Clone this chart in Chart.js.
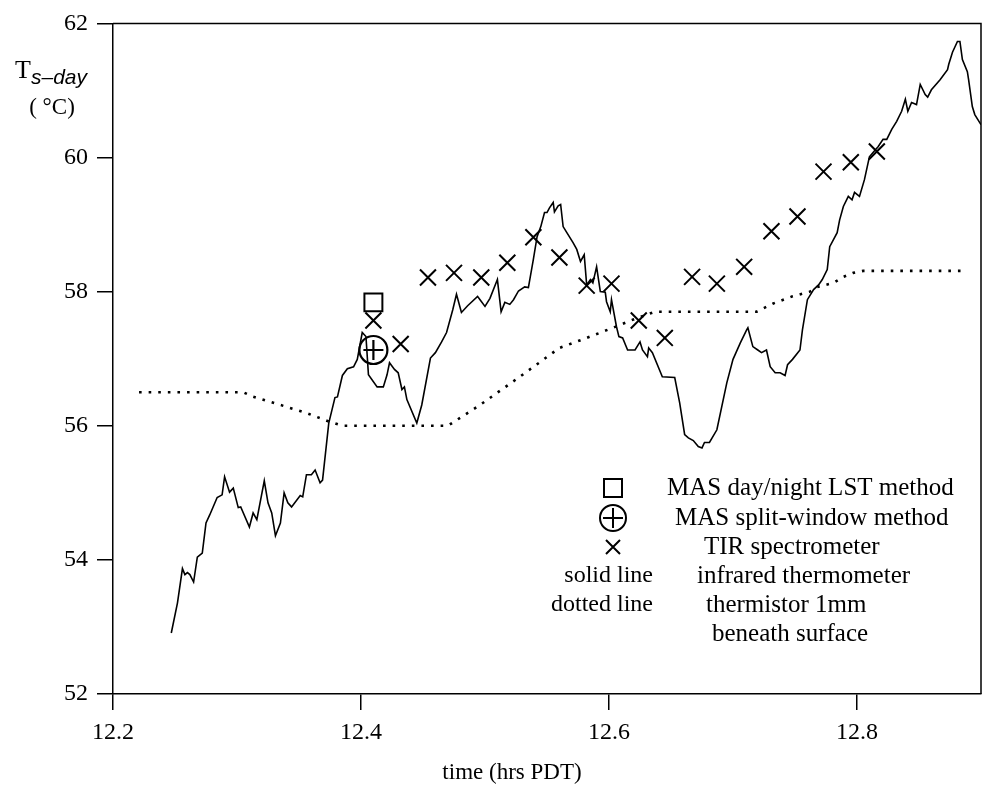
<!DOCTYPE html>
<html>
<head>
<meta charset="utf-8">
<title>Surface temperature, daytime overpass</title>
<script src="https://cdn.jsdelivr.net/npm/chart.js@4.4.0/dist/chart.umd.min.js"></script>
<style>
  html, body { margin: 0; padding: 0; background: #fff; }
  #wrap { width: 1007px; height: 790px; }
</style>
</head>
<body>
<div id="wrap"><canvas id="tsChart" width="1007" height="790"></canvas></div>
<script>
// infrared thermometer (solid line)
const irTime = [
  12.247, 12.252, 12.256, 12.258, 12.260, 12.262, 12.265, 12.268, 12.272, 12.275,
  12.278, 12.284, 12.288, 12.290, 12.294, 12.297, 12.301, 12.303, 12.310, 12.313,
  12.316, 12.322, 12.325, 12.328, 12.331, 12.335, 12.338, 12.341, 12.344, 12.351,
  12.353, 12.356, 12.360, 12.363, 12.367, 12.369, 12.374, 12.379, 12.381, 12.385,
  12.389, 12.394, 12.397, 12.401, 12.404, 12.406, 12.413, 12.418, 12.421, 12.423,
  12.427, 12.430, 12.433, 12.435, 12.437, 12.445, 12.449, 12.456, 12.460, 12.465,
  12.469, 12.474, 12.477, 12.481, 12.486, 12.494, 12.496, 12.500, 12.504, 12.510,
  12.513, 12.516, 12.520, 12.523, 12.527, 12.532, 12.535, 12.539, 12.542, 12.545,
  12.548, 12.550, 12.552, 12.555, 12.556, 12.559, 12.561, 12.563, 12.566, 12.571,
  12.574, 12.577, 12.580, 12.582, 12.585, 12.587, 12.590, 12.593, 12.597, 12.598,
  12.601, 12.602, 12.606, 12.608, 12.611, 12.615, 12.621, 12.625, 12.627, 12.631,
  12.632, 12.635, 12.643, 12.653, 12.657, 12.661, 12.664, 12.668, 12.672, 12.675,
  12.677, 12.681, 12.687, 12.695, 12.700, 12.706, 12.711, 12.712, 12.716, 12.720,
  12.723, 12.727, 12.730, 12.734, 12.738, 12.742, 12.744, 12.748, 12.754, 12.756,
  12.760, 12.765, 12.769, 12.772, 12.776, 12.778, 12.784, 12.786, 12.789, 12.793,
  12.796, 12.798, 12.802, 12.806, 12.810, 12.815, 12.817, 12.821, 12.824, 12.828,
  12.832, 12.836, 12.839, 12.841, 12.844, 12.848, 12.851, 12.855, 12.857, 12.860,
  12.867, 12.873, 12.874, 12.877, 12.881, 12.883, 12.885, 12.889, 12.890, 12.893,
  12.895, 12.900
];
const irTemp = [
  52.91, 53.36, 53.87, 53.78, 53.81, 53.78, 53.67, 54.04, 54.10, 54.55,
  54.67, 54.93, 54.97, 55.24, 55.01, 55.07, 54.78, 54.79, 54.49, 54.70,
  54.60, 55.18, 54.85, 54.70, 54.36, 54.55, 55.00, 54.85, 54.79, 54.96,
  54.94, 55.27, 55.27, 55.34, 55.15, 55.19, 56.04, 56.42, 56.43, 56.75,
  56.85, 56.88, 56.99, 57.39, 57.33, 56.76, 56.58, 56.58, 56.76, 56.94,
  56.84, 56.79, 56.54, 56.58, 56.39, 56.04, 56.31, 57.01, 57.09, 57.25,
  57.39, 57.73, 57.96, 57.69, 57.79, 57.93, 57.88, 57.78, 57.90, 58.18,
  57.70, 57.84, 57.81, 57.88, 58.01, 58.07, 58.06, 58.48, 58.82, 58.97,
  59.18, 59.18, 59.25, 59.33, 59.19, 59.28, 59.30, 58.97, 58.88, 58.73,
  58.63, 58.45, 58.55, 58.10, 58.18, 58.13, 58.37, 58.00, 57.99, 57.85,
  57.70, 57.88, 57.48, 57.33, 57.31, 57.13, 57.13, 57.25, 57.13, 57.03,
  57.16, 57.09, 56.73, 56.72, 56.34, 55.87, 55.82, 55.78, 55.69, 55.67,
  55.75, 55.75, 55.94, 56.64, 56.99, 57.24, 57.43, 57.46, 57.18, 57.13,
  57.09, 57.13, 56.88, 56.79, 56.79, 56.75, 56.91, 56.99, 57.13, 57.43,
  57.88, 58.03, 58.10, 58.18, 58.33, 58.67, 58.88, 59.07, 59.27, 59.42,
  59.37, 59.48, 59.42, 59.67, 60.01, 60.12, 60.16, 60.27, 60.27, 60.42,
  60.54, 60.69, 60.87, 60.69, 60.82, 60.79, 61.09, 60.94, 60.90, 61.01,
  61.16, 61.31, 61.39, 61.57, 61.73, 61.73, 61.46, 61.28, 61.16, 60.76,
  60.64, 60.49
];

// thermistor 1mm beneath surface (dotted line)
const thermTime = [
  12.221, 12.305, 12.312, 12.335, 12.356, 12.373, 12.385, 12.470, 12.496, 12.528,
  12.560, 12.582, 12.603, 12.619, 12.637, 12.719, 12.732, 12.748, 12.762, 12.768,
  12.781, 12.789, 12.797, 12.805, 12.889
];
const thermTemp = [
  56.50, 56.50, 56.44, 56.31, 56.19, 56.07, 56.00, 56.00, 56.31, 56.73,
  57.16, 57.31, 57.46, 57.58, 57.70, 57.70, 57.82, 57.93, 58.00, 58.07,
  58.13, 58.22, 58.28, 58.31, 58.31
];

// TIR spectrometer (crosses)
const tirTime = [
  12.410, 12.432, 12.454, 12.475, 12.497, 12.518, 12.539, 12.560, 12.582, 12.602,
  12.624, 12.645, 12.667, 12.687, 12.709, 12.731, 12.752, 12.773, 12.795, 12.816
];
const tirTemp = [
  57.57, 57.22, 58.21, 58.28, 58.21, 58.43, 58.81, 58.51, 58.09, 58.12,
  57.57, 57.31, 58.22, 58.12, 58.37, 58.90, 59.12, 59.79, 59.93, 60.09
];

// MAS retrievals
const masDayNightTime = [12.410];
const masDayNightTemp = [57.84];
const masSplitTime = [12.410];
const masSplitTemp = [57.13];

const xTicks = [12.2, 12.4, 12.6, 12.8];
const yTicks = [52, 54, 56, 58, 60, 62];

const legendRows = [
  { key: 'square', label: 'MAS day/night LST method' },
  { key: 'circlePlus', label: 'MAS split-window method' },
  { key: 'cross', label: 'TIR spectrometer' },
  { key: 'solid line', label: 'infrared thermometer' },
  { key: 'dotted line', label: 'thermistor 1mm' },
  { key: '', label: 'beneath surface' }
];

const SERIF = '"Liberation Serif", "Times New Roman", serif';
const SANS = '"Liberation Sans", Arial, sans-serif';

function toPoints(xs, ys) {
  return xs.map((x, i) => ({ x: x, y: ys[i] }));
}

// box around the plot, axis titles and the key
const annotations = {
  id: 'annotations',
  afterDraw(chart) {
    const { ctx, chartArea: a } = chart;
    ctx.save();
    ctx.strokeStyle = '#000';
    ctx.lineWidth = 1.5;
    ctx.beginPath();
    ctx.moveTo(a.left, a.top);
    ctx.lineTo(a.right, a.top);
    ctx.lineTo(a.right, a.bottom);
    ctx.stroke();

    ctx.fillStyle = '#000';
    ctx.textBaseline = 'alphabetic';

    // y title: T with subscript s-day, unit below
    ctx.textAlign = 'left';
    ctx.font = '26px ' + SERIF;
    ctx.fillText('T', 15, 78);
    ctx.font = 'italic 21px ' + SANS;
    ctx.fillText('s\u2013day', 31, 84);
    ctx.textAlign = 'center';
    ctx.font = '23px ' + SERIF;
    ctx.fillText('( \u00B0C)', 52, 114);

    // x title
    ctx.fillText('time (hrs PDT)', 512, 779);

    // key
    const mx = 613;
    const rowY = [488, 518, 547, 576, 605, 634];
    const textX = [667, 675, 704, 697, 706, 712];
    ctx.lineWidth = 2;
    ctx.textBaseline = 'middle';
    legendRows.forEach((row, i) => {
      const y = rowY[i];
      ctx.beginPath();
      if (row.key === 'square') {
        ctx.rect(mx - 9, y - 9, 18, 18);
        ctx.stroke();
      } else if (row.key === 'circlePlus') {
        ctx.arc(mx, y, 13, 0, Math.PI * 2);
        ctx.moveTo(mx - 10, y);
        ctx.lineTo(mx + 10, y);
        ctx.moveTo(mx, y - 10);
        ctx.lineTo(mx, y + 10);
        ctx.stroke();
      } else if (row.key === 'cross') {
        ctx.moveTo(mx - 7, y - 7);
        ctx.lineTo(mx + 7, y + 7);
        ctx.moveTo(mx + 7, y - 7);
        ctx.lineTo(mx - 7, y + 7);
        ctx.stroke();
      } else if (row.key) {
        ctx.font = '24px ' + SERIF;
        ctx.textAlign = 'right';
        ctx.fillText(row.key, 653, y);
      }
      ctx.font = '25px ' + SERIF;
      ctx.textAlign = 'left';
      ctx.fillText(row.label, textX[i], y);
    });
    ctx.restore();
  }
};

const tickFont = { family: SERIF, size: 24 };

new Chart(document.getElementById('tsChart'), {
  type: 'scatter',
  data: {
    datasets: [
      {
        label: 'MAS day/night LST method',
        data: toPoints(masDayNightTime, masDayNightTemp),
        pointStyle: 'rect',
        pointRadius: 12.7,
        borderColor: '#000',
        backgroundColor: 'rgba(0,0,0,0)',
        borderWidth: 2
      },
      {
        label: 'MAS split-window method',
        data: toPoints(masSplitTime, masSplitTemp),
        pointStyle: 'circle',
        pointRadius: 14,
        borderColor: '#000',
        backgroundColor: 'rgba(0,0,0,0)',
        borderWidth: 2.2
      },
      {
        label: 'MAS split-window method (centre)',
        data: toPoints(masSplitTime, masSplitTemp),
        pointStyle: 'cross',
        pointRadius: 10,
        borderColor: '#000',
        borderWidth: 2.2
      },
      {
        label: 'TIR spectrometer',
        data: toPoints(tirTime, tirTemp),
        pointStyle: 'crossRot',
        pointRadius: 11.3,
        borderColor: '#000',
        borderWidth: 2
      },
      {
        label: 'infrared thermometer',
        data: toPoints(irTime, irTemp),
        showLine: true,
        pointRadius: 0,
        borderColor: '#000',
        borderWidth: 1.6,
        tension: 0
      },
      {
        label: 'thermistor 1mm beneath surface',
        data: toPoints(thermTime, thermTemp),
        showLine: true,
        pointRadius: 0,
        borderColor: '#000',
        borderWidth: 2.6,
        borderDash: [2.6, 7],
        tension: 0
      }
    ]
  },
  options: {
    responsive: false,
    animation: false,
    events: [],
    layout: { padding: { top: 23, right: 26, left: 0, bottom: 0 } },
    plugins: {
      legend: { display: false },
      tooltip: { enabled: false }
    },
    scales: {
      x: {
        type: 'linear',
        min: 12.2,
        max: 12.9,
        afterFit: s => { s.height = 96; },
        afterBuildTicks: s => { s.ticks = xTicks.map(v => ({ value: v })); },
        border: { display: true, color: '#000', width: 1.5 },
        grid: { drawOnChartArea: false, drawTicks: true, tickLength: 16, color: '#000', lineWidth: 1.5 },
        ticks: {
          color: '#000',
          font: tickFont,
          padding: 8,
          maxRotation: 0,
          callback: v => v.toFixed(1)
        }
      },
      y: {
        type: 'linear',
        min: 52,
        max: 62,
        afterFit: s => { s.width = 113; },
        afterBuildTicks: s => { s.ticks = yTicks.map(v => ({ value: v })); },
        border: { display: true, color: '#000', width: 1.5 },
        grid: { drawOnChartArea: false, drawTicks: true, tickLength: 16, color: '#000', lineWidth: 1.5 },
        ticks: {
          color: '#000',
          font: tickFont,
          padding: 9,
          callback: v => String(v)
        }
      }
    }
  },
  plugins: [annotations]
});
</script>
</body>
</html>
